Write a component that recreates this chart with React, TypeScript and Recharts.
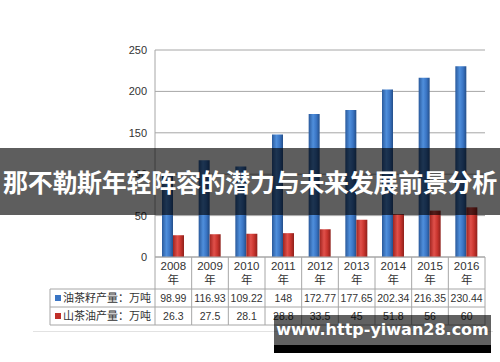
import React from "react";
import { BarChart, Bar, XAxis, YAxis, CartesianGrid } from "recharts";

const years = ["2008", "2009", "2010", "2011", "2012", "2013", "2014", "2015", "2016"];
const seedOutput = [98.99, 116.93, 109.22, 148, 172.77, 177.65, 202.34, 216.35, 230.44];
const oilOutput = [26.3, 27.5, 28.1, 28.8, 33.5, 45, 51.8, 56, 60];
const yTicks = [0, 50, 100, 150, 200, 250];
const seedLabel = "油茶籽产量：万吨";
const oilLabel = "山茶油产量：万吨";
const overlayTitle = "那不勒斯年轻阵容的潜力与未来发展前景分析";
const watermark = "www.http-yiwan28.com";

const data = years.map((y, i) => ({ year: y, seed: seedOutput[i], oil: oilOutput[i] }));

const W = 500;
const H = 362;
const PLOT_LEFT = 155;
const PLOT_RIGHT = 485;
const BAND = (PLOT_RIGHT - PLOT_LEFT) / years.length;
const GRID = "#a6a6a6";
const TXT = "#333";
const FONT = "'Liberation Sans', 'Noto Sans CJK SC', sans-serif";

// table rows under the axis
const ROW_HEAD = 32;
const ROW_H = 18;

const TableTick = (props: any) => {
  const { x, y, payload, index } = props;
  const l = x - BAND / 2;
  const r = x + BAND / 2;
  const y1 = y + ROW_HEAD;
  const y2 = y1 + ROW_H;
  const y3 = y2 + ROW_H;
  const legendLeft = 50;
  return (
    <g fontFamily={FONT}>
      <line x1={r} y1={y} x2={r} y2={y3} stroke={GRID} />
      {index === 0 && (
        <g>
          <line x1={l} y1={y} x2={l} y2={y3} stroke={GRID} />
          <line x1={legendLeft} y1={y1} x2={l} y2={y1} stroke={GRID} />
          <line x1={legendLeft} y1={y2} x2={l} y2={y2} stroke={GRID} />
          <line x1={legendLeft} y1={y3} x2={l} y2={y3} stroke={GRID} />
          <line x1={legendLeft} y1={y1} x2={legendLeft} y2={y3} stroke={GRID} />
          <rect x={legendLeft + 5} y={y1 + 6} width={6} height={6} fill="#3a75c4" />
          <rect x={legendLeft + 5} y={y2 + 6} width={6} height={6} fill="#c0302a" />
          <text x={legendLeft + 13} y={y1 + 13} fontSize={11} fill={TXT}>
            {seedLabel}
          </text>
          <text x={legendLeft + 13} y={y2 + 13} fontSize={11} fill={TXT}>
            {oilLabel}
          </text>
        </g>
      )}
      <line x1={l} y1={y1} x2={r} y2={y1} stroke={GRID} />
      <line x1={l} y1={y2} x2={r} y2={y2} stroke={GRID} />
      <line x1={l} y1={y3} x2={r} y2={y3} stroke={GRID} />
      <text x={x} y={y + 13} textAnchor="middle" fontSize={11.5} fill={TXT}>
        {payload.value}
      </text>
      <text x={x} y={y + 27} textAnchor="middle" fontSize={11.5} fill={TXT}>
        年
      </text>
      <text x={x} y={y1 + 13} textAnchor="middle" fontSize={10.5} fill={TXT}>
        {seedOutput[index]}
      </text>
      <text x={x} y={y2 + 13} textAnchor="middle" fontSize={10.5} fill={TXT}>
        {oilOutput[index]}
      </text>
    </g>
  );
};

export default function App() {
  return (
    <div style={{ position: "absolute", left: 0, top: 0, width: W, height: H, background: "#fff", overflow: "hidden" }}>
      <BarChart
        width={W}
        height={H}
        data={data}
        margin={{ top: 50, right: W - PLOT_RIGHT, bottom: 35, left: PLOT_LEFT - 40 }}
        barCategoryGap="20%"
        barGap={0}
      >
        <defs>
          <linearGradient id="blueBar" x1="0" y1="0" x2="1" y2="0">
            <stop offset="0%" stopColor="#2a5a9c" />
            <stop offset="40%" stopColor="#4f8fdc" />
            <stop offset="70%" stopColor="#3a75c4" />
            <stop offset="100%" stopColor="#244f8a" />
          </linearGradient>
          <linearGradient id="redBar" x1="0" y1="0" x2="1" y2="0">
            <stop offset="0%" stopColor="#a02520" />
            <stop offset="40%" stopColor="#e0504a" />
            <stop offset="70%" stopColor="#c8342d" />
            <stop offset="100%" stopColor="#8e201b" />
          </linearGradient>
        </defs>
        <CartesianGrid vertical={false} stroke={GRID} />
        <XAxis
          dataKey="year"
          height={70}
          interval={0}
          tickLine={false}
          tickSize={0}
          tickMargin={0}
          axisLine={{ stroke: GRID }}
          tick={<TableTick />}
        />
        <YAxis
          width={40}
          domain={[0, 250]}
          ticks={yTicks}
          tickLine={false}
          axisLine={{ stroke: GRID }}
          tick={{ fontSize: 11, fill: TXT, fontFamily: FONT }}
        />
        <Bar dataKey="seed" fill="url(#blueBar)" barSize={11} isAnimationActive={false} />
        <Bar dataKey="oil" fill="url(#redBar)" barSize={11} isAnimationActive={false} />
      </BarChart>
      <div style={{ position: "absolute", left: 33, top: 331, width: 460, height: 1, background: "#e2e2e2" }} />
      <div
        style={{
          position: "absolute",
          left: 0,
          top: 148,
          width: W,
          height: 67,
          background: "rgba(0,0,0,0.63)",
          color: "#fff",
          fontFamily: "'Noto Sans CJK SC', sans-serif",
          fontWeight: 700,
          fontSize: 25,
          lineHeight: "67px",
          whiteSpace: "nowrap",
          textAlign: "center",
          letterSpacing: -0.3,
        }}
      >
        {overlayTitle}
      </div>
      <div
        style={{
          position: "absolute",
          left: 274,
          top: 315,
          width: 217,
          height: 30,
          background: "rgba(0,0,0,0.62)",
          color: "#fff",
          fontFamily: "'DejaVu Sans', sans-serif",
          fontWeight: 700,
          fontSize: 16,
          lineHeight: "30px",
          textAlign: "center",
          whiteSpace: "nowrap",
        }}
      >
        {watermark}
      </div>
      <div style={{ position: "absolute", left: 274, top: 345, width: 217, height: 8, background: "#000" }} />
    </div>
  );
}
